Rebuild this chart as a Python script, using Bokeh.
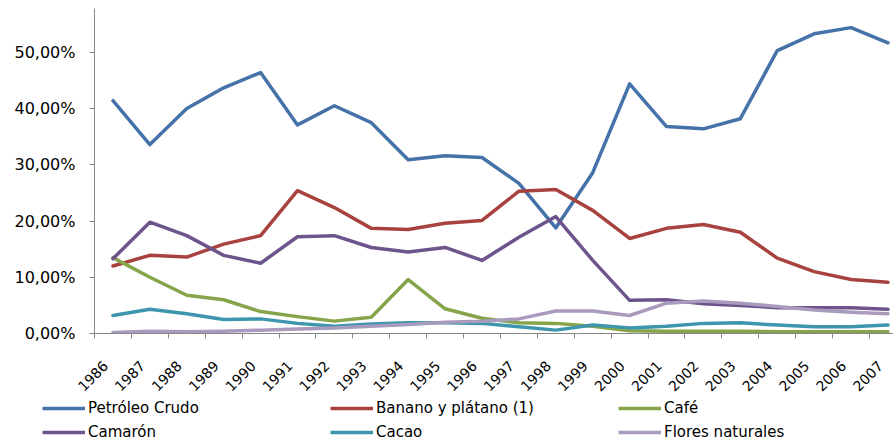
import math
from bokeh.plotting import figure
from bokeh.layouts import column, row
from bokeh.models import Range1d, FixedTicker, Legend, LegendItem
from bokeh.embed import file_html
from bokeh.resources import INLINE

years = [1986, 1987, 1988, 1989, 1990, 1991, 1992, 1993, 1994, 1995, 1996,
         1997, 1998, 1999, 2000, 2001, 2002, 2003, 2004, 2005, 2006, 2007]

petroleo = [41.4, 33.6, 40.0, 43.7, 46.4, 37.1, 40.5, 37.5, 30.9, 31.6, 31.3,
            26.7, 18.8, 28.6, 44.4, 36.8, 36.4, 38.2, 50.3, 53.3, 54.4, 51.7]
banano = [12.0, 13.9, 13.6, 15.9, 17.4, 25.4, 22.4, 18.7, 18.5, 19.6, 20.1,
          25.3, 25.6, 21.9, 16.9, 18.7, 19.4, 18.0, 13.4, 11.0, 9.6, 9.1]
cafe = [13.5, 10.0, 6.8, 6.0, 3.9, 3.0, 2.2, 2.9, 9.6, 4.4, 2.7,
        1.9, 1.8, 1.3, 0.5, 0.4, 0.4, 0.4, 0.3, 0.3, 0.3, 0.3]
camaron = [13.3, 19.8, 17.4, 13.9, 12.5, 17.2, 17.4, 15.3, 14.5, 15.3, 13.0,
           17.1, 20.8, 13.0, 5.9, 6.0, 5.3, 5.0, 4.6, 4.6, 4.6, 4.3]
cacao = [3.2, 4.3, 3.5, 2.5, 2.6, 1.8, 1.3, 1.7, 1.9, 1.9, 1.8,
         1.2, 0.6, 1.5, 1.0, 1.3, 1.8, 1.9, 1.5, 1.2, 1.2, 1.5]
flores = [0.2, 0.4, 0.3, 0.4, 0.6, 0.8, 1.0, 1.3, 1.6, 2.0, 2.2,
          2.6, 4.0, 4.0, 3.2, 5.4, 5.8, 5.4, 4.8, 4.2, 3.8, 3.5]

series_names = ["Petróleo Crudo", "Banano y plátano (1)", "Café",
                "Camarón", "Cacao", "Flores naturales"]
series_values = [petroleo, banano, cafe, camaron, cacao, flores]
series_colors = ["#4572A8", "#A8423F", "#86A44A", "#6E548D", "#3D96AE", "#A99BBD"]

y_ticks = [0.0, 0.1, 0.2, 0.3, 0.4, 0.5]
y_tick_labels = ["0,00%", "10,00%", "20,00%", "30,00%", "40,00%", "50,00%"]

idx = list(range(len(years)))

p = figure(width=893, height=400, output_backend="svg", toolbar_location=None,
           x_range=Range1d(-0.5, 21.15), y_range=Range1d(0, 0.578),
           min_border_left=94, min_border_right=0, min_border_top=8,
           min_border_bottom=67)
p.outline_line_color = None
p.xgrid.visible = False
p.ygrid.visible = False
p.background_fill_color = "white"
p.border_fill_color = "white"

for name, vals, col in zip(series_names, series_values, series_colors):
    p.line(idx, [v / 100 for v in vals], line_color=col, line_width=3.5,
           line_join="round", line_cap="round")

# x axis: boundary ticks as minor ticks, year labels (slightly left of centre)
label_pos = [i - 0.2 for i in idx]
xa = p.xaxis[0]
xa.ticker = FixedTicker(ticks=label_pos, minor_ticks=[i - 0.5 for i in idx])
xa.major_label_overrides = {t: str(y) for t, y in zip(label_pos, years)}
xa.major_tick_line_color = None
xa.minor_tick_out = 5
xa.minor_tick_in = 0
xa.minor_tick_line_color = "#868686"
xa.axis_line_color = "#868686"
xa.major_label_orientation = math.pi / 4
xa.major_label_text_font = "DejaVu Sans"
xa.major_label_text_font_size = "14px"
xa.major_label_text_color = "black"
xa.major_label_standoff = 24

# y axis
ya = p.yaxis[0]
ya.ticker = FixedTicker(ticks=y_ticks, minor_ticks=[])
ya.major_label_overrides = {t: l for t, l in zip(y_ticks, y_tick_labels)}
ya.major_tick_out = 5
ya.major_tick_in = 0
ya.major_tick_line_color = "#868686"
ya.minor_tick_line_color = None
ya.axis_line_color = "#868686"
ya.major_label_text_font = "DejaVu Sans"
ya.major_label_text_font_size = "16px"
ya.major_label_text_color = "black"
ya.major_label_standoff = 14

# legend in its own strip below the chart
pl = figure(width=893, height=44, output_backend="svg", toolbar_location=None,
            x_axis_type=None, y_axis_type=None,
            x_range=Range1d(0, 1), y_range=Range1d(-2, -1),
            min_border_left=0, min_border_right=0, min_border_top=0,
            min_border_bottom=0)
pl.outline_line_color = None
pl.xgrid.visible = False
pl.ygrid.visible = False
pl.border_fill_color = "white"

items = []
for name, vals, col in zip(series_names, series_values, series_colors):
    r = pl.line(idx, [v / 100 for v in vals], line_color=col, line_width=3.5)
    items.append(LegendItem(label=name, renderers=[r]))

legend = Legend(items=items, location=(42, 3), ncols=3, orientation="horizontal",
                glyph_width=43, glyph_height=14, label_height=14, label_width=236,
                label_standoff=3, spacing=6, padding=0, margin=0,
                border_line_color=None, background_fill_alpha=0,
                label_text_font="DejaVu Sans", label_text_font_size="15px",
                label_text_color="black")
pl.add_layout(legend, "center")

layout = column(p, row(pl), spacing=0)
open("out.html", "w").write(file_html(layout, INLINE))
